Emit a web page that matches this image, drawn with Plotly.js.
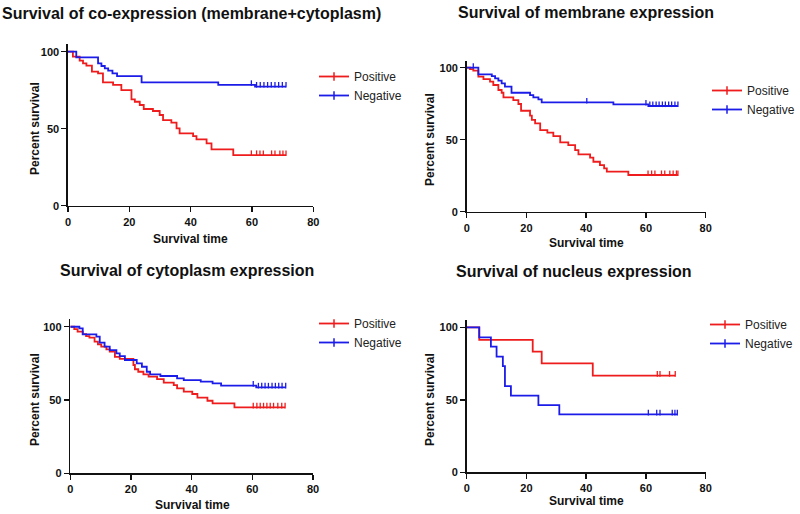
<!DOCTYPE html>
<html>
<head>
<meta charset="utf-8">
<script src="https://cdn.plot.ly/plotly-3.0.1.min.js"></script>
<style>
html,body{margin:0;padding:0;background:#fff;}
#chart{width:800px;height:514px;}
</style>
</head>
<body>
<div id="chart"></div>
<script>
// ---- Panel titles ----
const panelTitles = [
  "Survival of co-expression (membrane+cytoplasm)",
  "Survival of membrane expression",
  "Survival of cytoplasm expression",
  "Survival of nucleus expression"
];
const seriesNames = ["Positive", "Negative"];
const xTickVals = [0, 20, 40, 60, 80];
const yTickVals = [0, 50, 100];

// ---- Panel 1: co-expression (membrane+cytoplasm) ----
const coPosT = [0, 1.6, 3.8, 4.9, 6, 7.8, 9.8, 11.4, 14.7, 17.4, 20.7, 21.8, 23.4, 24.7, 27.7, 29.9, 31, 33.7, 35.4, 36.4, 40.8, 41.9, 45.2, 46.8, 53.9];
const coPosS = [100, 96.8, 94.2, 92.4, 90.9, 87, 85.9, 80.1, 78.4, 75.1, 69, 67.5, 65.4, 62.8, 61.5, 58.9, 55.6, 53.9, 50.2, 47, 45.2, 43.1, 40.5, 36.6, 32.9];
const coPosC = [59.8, 61.5, 62.6, 63.7, 66.4, 67.5, 69.1, 70.1, 71.1];
const coNegT = [0, 2.7, 9.8, 10.9, 12, 13.1, 14.5, 16, 24, 49, 61];
const coNegS = [100, 96.3, 92.4, 90.7, 89.2, 87.7, 85.9, 84.2, 80.1, 78.4, 77.3];
const coNegC = [59.8, 61.5, 62.7, 63.9, 65.1, 66.3, 67.5, 68.7, 69.9, 71.1];

// ---- Panel 2: membrane expression ----
const memPosT = [0, 1.1, 2.2, 3.9, 5.6, 7.8, 8.9, 10.6, 11.7, 12.3, 15.6, 17.3, 18.2, 21.2, 21.8, 22.9, 24.6, 27, 29, 31.3, 34, 36.3, 37.4, 41.3, 42.4, 44.6, 46, 46.9, 54.1];
const memPosS = [100, 99, 97.9, 93.8, 92.1, 90.3, 88, 84.5, 82.6, 79.4, 77.5, 74.8, 70.1, 66.7, 63.7, 61.3, 56.7, 54.9, 52.5, 48.1, 46.3, 42.8, 39.8, 37.5, 34.7, 32.4, 30.1, 27.8, 25.5];
const memPosC = [60.7, 61.9, 63, 65.2, 66.3, 68, 69.1, 70.2, 70.7];
const memNegT = [0, 3.9, 8.4, 9.5, 10.6, 11.7, 12.8, 15, 21.2, 22.3, 24, 25.1, 49.1, 60.8];
const memNegS = [100, 95.4, 94.2, 92.6, 91, 89.1, 86.8, 82.6, 81, 79.4, 78, 75.9, 74.5, 73.4];
const memNegC = [2.2, 40.2, 60, 61.3, 62.3, 63.4, 64.4, 65.5, 66.5, 67.6, 68.6, 69.7, 70.7];

// ---- Panel 3: cytoplasm expression ----
const cytPosT = [0, 1.3, 2.4, 4.1, 5.2, 6.3, 8, 9.1, 10.2, 11.9, 13, 14.7, 16.3, 20.8, 21.3, 22.4, 24.1, 25.8, 28.6, 30.8, 34.1, 35.2, 37.4, 40.2, 41.9, 45.2, 46.9, 54.1];
const cytPosS = [100, 98.4, 96.6, 95, 93.6, 92.5, 89.8, 88, 86.4, 84.5, 83, 79.5, 78, 73.9, 71, 69.3, 67.5, 65.9, 64.3, 61.8, 60.2, 58, 55.7, 54.1, 51.6, 49.5, 47.7, 45];
const cytPosC = [60.3, 61.5, 62.6, 63.7, 64.8, 65.9, 67, 68.4, 69.7, 70.8];
const cytNegT = [0, 3, 4.1, 8.6, 9.7, 11.3, 13, 15.2, 16.3, 18, 21.9, 23.6, 25.2, 26.3, 29.7, 35.2, 37.4, 43, 46.9, 49.7, 61.3];
const cytNegS = [100, 98.9, 94.8, 93.2, 89.1, 86.4, 84.1, 81.8, 80, 77.3, 75, 72.7, 69.3, 67.5, 66.4, 64.8, 63.6, 62.5, 61.4, 59.8, 58.6];
const cytNegC = [60.3, 62, 63.1, 64.2, 65.3, 66.5, 67.6, 68.7, 69.8, 71];

// ---- Panel 4: nucleus expression ----
const nucPosT = [0, 4.2, 22.1, 25.1, 42.2];
const nucPosS = [100, 91.3, 83.2, 75.2, 66.7];
const nucPosC = [63.8, 64.7, 67.9, 69.8];
const nucNegT = [0, 4.2, 8.1, 10, 12.1, 12.8, 14.8, 24, 31];
const nucNegS = [100, 93.1, 86.7, 79.8, 73.3, 59.5, 52.9, 46.4, 40];
const nucNegC = [60.8, 63.6, 64.7, 68.8, 69.7, 70.5];

const colors = ["#ee1c1c", "#1c1ce8"];
const FONT = "Liberation Sans, Arial, sans-serif";

const panels = [
  {pos: [coPosT, coPosS, coPosC], neg: [coNegT, coNegS, coNegC]},
  {pos: [memPosT, memPosS, memPosC], neg: [memNegT, memNegS, memNegC]},
  {pos: [cytPosT, cytPosS, cytPosC], neg: [cytNegT, cytNegS, cytNegC]},
  {pos: [nucPosT, nucPosS, nucPosC], neg: [nucNegT, nucNegS, nucNegC]}
];

// layout geometry (pixels in the 800x514 frame)
const geo = [
  {x0: 68,    x1: 313.3, y0: 205.7, ytop: 44.0,  leg: [314, 62],  tx: 191, ty: 13, sx: 190, sy: 239, px: 35,  py: 129},
  {x0: 466.7, x1: 705.7, y0: 211.7, ytop: 60.5,  leg: [707, 76],  tx: 586, ty: 12, sx: 586, sy: 243, px: 430, py: 140},
  {x0: 70.3,  x1: 313.0, y0: 473.3, ytop: 319.4, leg: [314, 309], tx: 187, ty: 270, sx: 192, sy: 505, px: 35, py: 400},
  {x0: 466.7, x1: 705.7, y0: 472.3, ytop: 320.1, leg: [705, 310], tx: 574, ty: 271, sx: 586, sy: 501, px: 430, py: 400}
];
const W = 800, H = 514;

function stepAt(T, S, t) {
  let v = S[0];
  for (let i = 0; i < T.length; i++) { if (T[i] <= t) v = S[i]; }
  return v;
}

const traces = [];
const layout = {
  width: W, height: H,
  margin: {l: 0, r: 0, t: 0, b: 0, autoexpand: false},
  paper_bgcolor: "#fff", plot_bgcolor: "#fff",
  font: {family: FONT, color: "#111"},
  annotations: [],
  showlegend: true
};

panels.forEach((p, i) => {
  const n = i + 1;
  const xa = "x" + (n === 1 ? "" : n), ya = "y" + (n === 1 ? "" : n);
  const legName = "legend" + (n === 1 ? "" : n);
  const g = geo[i];
  [p.pos, p.neg].forEach((s, k) => {
    const [T, S, C] = s;
    const lastT = Math.max(T[T.length - 1], C[C.length - 1]);
    traces.push({
      type: "scatter", mode: "lines", xaxis: xa, yaxis: ya,
      x: T.concat([lastT]), y: S.concat([S[S.length - 1]]),
      line: {shape: "hv", color: colors[k], width: 1.8},
      showlegend: false, hoverinfo: "skip"
    });
    traces.push({
      type: "scatter", mode: "markers", xaxis: xa, yaxis: ya,
      x: C, y: C.map(c => stepAt(T, S, c) + 1.2),
      marker: {symbol: "line-ns", size: 4, line: {color: colors[k], width: 1.3}},
      showlegend: false, hoverinfo: "skip", cliponaxis: false
    });
    traces.push({
      type: "scatter", mode: "lines+markers", xaxis: xa, yaxis: ya,
      x: [null], y: [null], name: seriesNames[k], legend: legName,
      line: {color: colors[k], width: 1.8},
      marker: {symbol: "line-ns", size: 6, line: {color: colors[k], width: 1.5}},
      showlegend: true
    });
  });

  const axCommon = {
    showgrid: false, zeroline: false, showline: true, linecolor: "#111", linewidth: 1.6,
    ticks: "outside", ticklen: 5, tickwidth: 1.5, tickcolor: "#111",
    tickfont: {family: FONT, size: 11, color: "#111", weight: "bold"},
    fixedrange: true, automargin: false
  };
  layout["xaxis" + (n === 1 ? "" : n)] = Object.assign({}, axCommon, {
    domain: [g.x0 / W, g.x1 / W], anchor: ya, range: [0, 80], tickvals: xTickVals
  });
  layout["yaxis" + (n === 1 ? "" : n)] = Object.assign({}, axCommon, {
    domain: [1 - g.y0 / H, 1 - g.ytop / H], anchor: xa, range: [0, 105], tickvals: yTickVals
  });
  layout[legName] = {
    x: g.leg[0] / W, y: 1 - g.leg[1] / H, xanchor: "left", yanchor: "top",
    bgcolor: "rgba(0,0,0,0)", borderwidth: 0,
    font: {family: FONT, size: 12, color: "#222"}, tracegroupgap: 0
  };
  layout.annotations.push({
    text: panelTitles[i], xref: "paper", yref: "paper", x: g.tx / W, y: 1 - g.ty / H,
    xanchor: "center", yanchor: "middle", showarrow: false,
    font: {family: FONT, size: 16, color: "#111", weight: "bold"}
  });
  layout.annotations.push({
    text: "Survival time", xref: "paper", yref: "paper", x: g.sx / W, y: 1 - g.sy / H,
    xanchor: "center", yanchor: "middle", showarrow: false,
    font: {family: FONT, size: 12, color: "#111", weight: "bold"}
  });
  layout.annotations.push({
    text: "Percent survival", xref: "paper", yref: "paper", x: g.px / W, y: 1 - g.py / H,
    xanchor: "center", yanchor: "middle", showarrow: false, textangle: -90,
    font: {family: FONT, size: 12, color: "#111", weight: "bold"}
  });
});

Plotly.newPlot("chart", traces, layout, {staticPlot: true, displayModeBar: false});
</script>
</body>
</html>
